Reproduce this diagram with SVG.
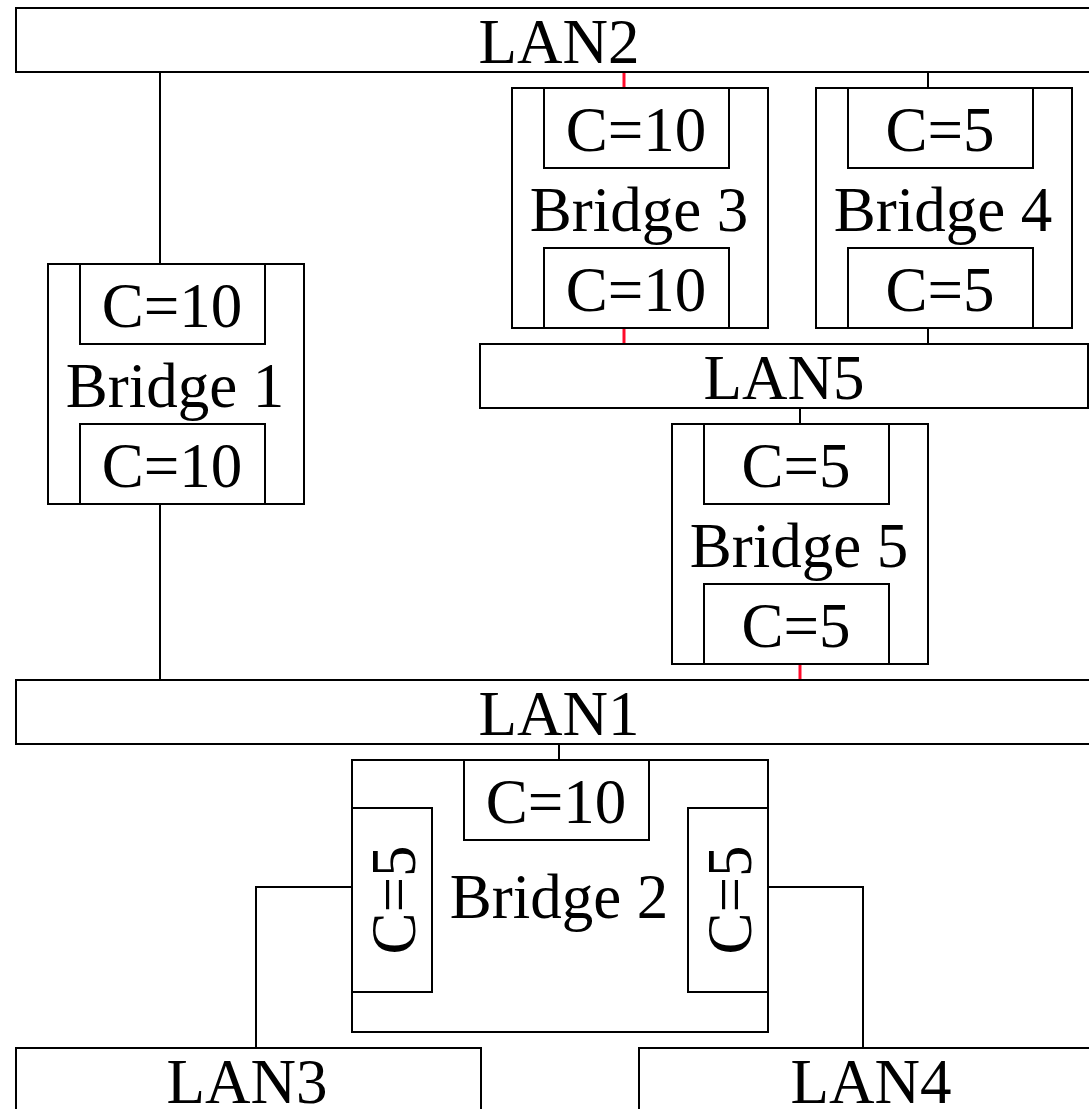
<svg xmlns="http://www.w3.org/2000/svg" width="1089" height="1109" viewBox="0 0 1089 1109">
<style>
rect{fill:#fff;stroke:#000;stroke-width:2}
text{font-family:"Liberation Serif","Times New Roman",serif;font-size:63px;fill:#000;text-anchor:middle}
.c line{stroke:#000;stroke-width:2;fill:none}
.c polyline{stroke:#000;stroke-width:2;fill:none}
.c .r{stroke:#ff0a2a;stroke-width:3}
</style>
<rect x="0" y="0" width="1089" height="1109" style="stroke:none"/>
<g class="c" id="connectors">
<line x1="160" y1="72" x2="160" y2="264"/>
<line x1="160" y1="504" x2="160" y2="680"/>
<line class="r" x1="624" y1="72" x2="624" y2="88"/>
<line x1="928" y1="72" x2="928" y2="88"/>
<line class="r" x1="624" y1="328" x2="624" y2="344"/>
<line x1="928" y1="328" x2="928" y2="344"/>
<line x1="800" y1="408" x2="800" y2="424"/>
<line class="r" x1="800" y1="664" x2="800" y2="680"/>
<line x1="559" y1="744" x2="559" y2="760"/>
<polyline points="352,887 256,887 256,1048"/>
<polyline points="768,887 863,887 863,1048"/>
</g>
<g id="LAN2"><rect x="16" y="8" width="1086" height="64"/><text x="559" y="63">LAN2</text></g>
<g id="LAN5"><rect x="480" y="344" width="608" height="64"/><text x="784" y="399">LAN5</text></g>
<g id="LAN1"><rect x="16" y="680" width="1086" height="64"/><text x="559" y="735">LAN1</text></g>
<g id="LAN3"><rect x="16" y="1048" width="465" height="80"/><text x="247" y="1103">LAN3</text></g>
<g id="LAN4"><rect x="639" y="1048" width="464" height="80"/><text x="871" y="1103">LAN4</text></g>
<g id="Bridge1">
<rect x="48" y="264" width="256" height="240"/>
<rect x="80" y="264" width="185" height="80"/>
<rect x="80" y="424" width="185" height="80"/>
<text x="172" y="327">C=10</text>
<text x="175" y="407">Bridge 1</text>
<text x="172" y="487">C=10</text>
</g>
<g id="Bridge3">
<rect x="512" y="88" width="256" height="240"/>
<rect x="544" y="88" width="185" height="80"/>
<rect x="544" y="248" width="185" height="80"/>
<text x="636" y="151">C=10</text>
<text x="639" y="231">Bridge 3</text>
<text x="636" y="311">C=10</text>
</g>
<g id="Bridge4">
<rect x="816" y="88" width="256" height="240"/>
<rect x="848" y="88" width="185" height="80"/>
<rect x="848" y="248" width="185" height="80"/>
<text x="940" y="151">C=5</text>
<text x="943" y="231">Bridge 4</text>
<text x="940" y="311">C=5</text>
</g>
<g id="Bridge5">
<rect x="672" y="424" width="256" height="240"/>
<rect x="704" y="424" width="185" height="80"/>
<rect x="704" y="584" width="185" height="80"/>
<text x="796" y="487">C=5</text>
<text x="799" y="567">Bridge 5</text>
<text x="796" y="647">C=5</text>
</g>
<g id="Bridge2">
<rect x="352" y="760" width="416" height="272"/>
<rect x="464" y="760" width="185" height="80"/>
<rect x="352" y="808" width="80" height="184"/>
<rect x="688" y="808" width="80" height="184"/>
<text x="556" y="823">C=10</text>
<text x="559" y="918">Bridge 2</text>
<text transform="translate(415,900) rotate(-90)">C=5</text>
<text transform="translate(751,900) rotate(-90)">C=5</text>
</g>
</svg>
